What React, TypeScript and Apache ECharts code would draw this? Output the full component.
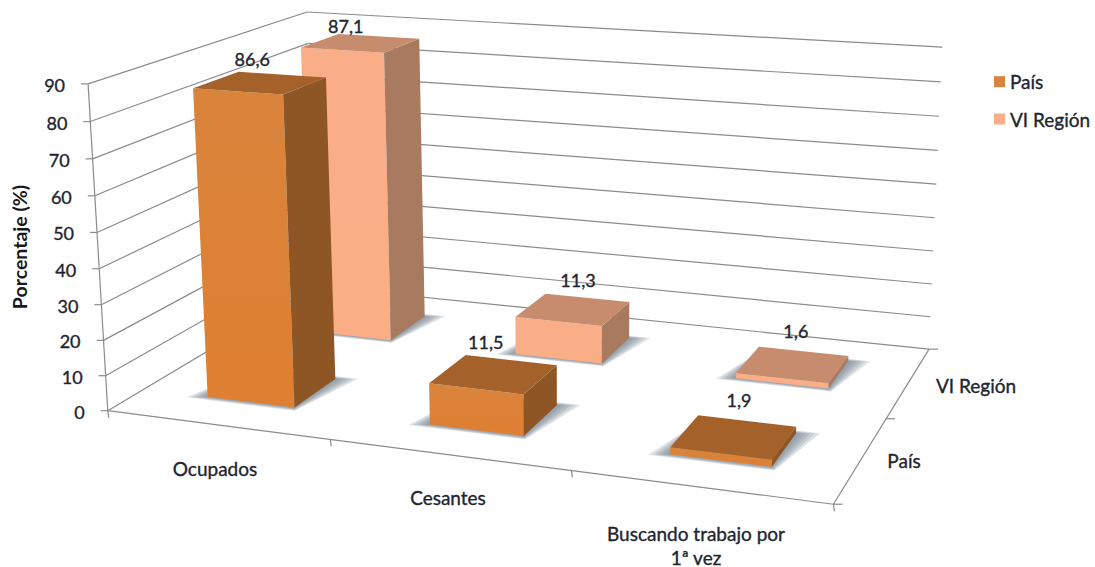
import React, { useEffect, useRef } from "react";
import * as echarts from "echarts";

const categories = ["Ocupados", "Cesantes", "Buscando trabajo por\n1ª vez"];
const seriesNames = ["País", "VI Región"];
const paisValues = [86.6, 11.5, 1.9];
const regionValues = [87.1, 11.3, 1.6];
const valueTicks = [0, 10, 20, 30, 40, 50, 60, 70, 80, 90];
const valueLabels = ["86,6", "11,5", "1,9"];
const regionLabels = ["87,1", "11,3", "1,6"];

const W = 1095;
const H = 567;
const FONT = "Lato, Carlito, 'Open Sans', sans-serif";
const TEXT = "#1e2530";
const LINE = "#8b8b8b";

// Calibration of the 3D box: [u, depth, height] -> screen position.
const calibration: number[][] = [
  [0, 0, 0, 107, 411],
  [0, 0, 1, 90, 83],
  [0, 1, 0, 318, 286],
  [0, 1, 1, 305, 12],
  [1, 1, 0, 928, 349],
  [1, 1, 1, 943, 48],
  [1, 0, 0, 833, 503],
  [1 / 3, 0, 0, 330, 440],
  [2 / 3, 0, 0, 570, 472],
  [1, 0.5, 0, 888, 418],
];

function solveProjection(): number[] {
  const rows: number[][] = [];
  const rhs: number[] = [];
  calibration.forEach(([X, Y, Z, sx, sy]) => {
    const x = sx / 1000;
    const y = sy / 1000;
    rows.push([X, Y, Z, 1, 0, 0, 0, 0, -x * X, -x * Y, -x * Z]);
    rhs.push(x);
    rows.push([0, 0, 0, 0, X, Y, Z, 1, -y * X, -y * Y, -y * Z]);
    rhs.push(y);
  });
  const n = 11;
  const m: number[][] = [];
  for (let i = 0; i < n; i++) {
    const r = new Array(n + 1).fill(0);
    rows.forEach((row, k) => {
      for (let j = 0; j < n; j++) r[j] += row[i] * row[j];
      r[n] += row[i] * rhs[k];
    });
    m.push(r);
  }
  for (let c = 0; c < n; c++) {
    let p = c;
    for (let i = c + 1; i < n; i++) if (Math.abs(m[i][c]) > Math.abs(m[p][c])) p = i;
    [m[c], m[p]] = [m[p], m[c]];
    for (let i = 0; i < n; i++) {
      if (i === c) continue;
      const f = m[i][c] / m[c][c];
      for (let j = c; j <= n; j++) m[i][j] -= f * m[c][j];
    }
  }
  return m.map((r, i) => r[n] / r[i]);
}
const P = solveProjection();
function project(u: number, d: number, h: number): number[] {
  const w = P[8] * u + P[9] * d + P[10] * h + 1;
  return [
    (1000 * (P[0] * u + P[1] * d + P[2] * h + P[3])) / w,
    (1000 * (P[4] * u + P[5] * d + P[6] * h + P[7])) / w,
  ];
}

const BAR_WIDTH = 0.4; // share of a category band
const BAR_DEPTH = 0.2; // share of the floor depth

const labelNudge = [
  [[-8, -24], [-8, -32], [5, -37]],
  [[-15, -17], [5, -29], [3, -33]],
];

const faces = [
  {
    front: ["#d9843c", "#df7f31"],
    side: "#8f5625",
    top: "#a4622a",
  },
  {
    front: ["#f9ae88", "#fbae86"],
    side: "#a87a60",
    top: "#c68c6d",
  },
];

function txt(text: string, x: number, y: number, align = "center", extra: any = {}) {
  return {
    type: "text",
    silent: true,
    style: {
      text,
      x,
      y,
      fill: TEXT,
      stroke: TEXT,
      lineWidth: 0.35,
      align,
      verticalAlign: "middle",
      fontSize: 18,
      fontFamily: FONT,
      ...extra,
    },
  };
}

function seg(a: number[], b: number[]) {
  return {
    type: "line",
    silent: true,
    shape: { x1: a[0], y1: a[1], x2: b[0], y2: b[1] },
    style: { stroke: LINE, lineWidth: 1.2, fill: "none" },
  };
}

const frameRender = (_p: any, api: any) => {
  const hOf = (v: number) => 1 - api.coord([0, v])[1] / H;
  const uOf = (i: number, off: number) => (api.coord([i, 0])[0] + off * api.size([1, 0])[0]) / W;
  const kids: any[] = [];
  valueTicks.forEach((v) => {
    const h = hOf(v);
    const a = project(0, 0, h);
    const b = project(0, 1, h);
    const c = project(1, 1, h);
    kids.push(seg(a, b), seg(b, c), seg([a[0] - 7, a[1]], a));
    kids.push(txt(String(v), a[0] - 23, a[1] + 1, "right"));
  });
  kids.push(seg(project(0, 0, 0), project(0, 0, 1)));
  kids.push(seg(project(0, 0, 0), project(1, 0, 0)));
  kids.push(seg(project(1, 0, 0), project(1, 1, 0)));
  const bands = [0, 1, 2].map((i) => uOf(i, -0.5)).concat(uOf(2, 0.5));
  bands.forEach((u) => {
    const a = project(u, 0, 0);
    kids.push(seg(a, [a[0] + 1, a[1] + 7]));
  });
  [0, 0.5, 1].forEach((d) => {
    const a = project(1, d, 0);
    kids.push(seg(a, [a[0] + 9, a[1]]));
  });
  const catPos = [
    [215, 468],
    [448, 497],
    [696, 533],
  ];
  categories.forEach((c, i) => {
    c.split("\n").forEach((line, k) => {
      kids.push(
        txt(line, catPos[i][0], catPos[i][1] + k * 24, "center", { lineHeight: 18, fontSize: 19 })
      );
    });
  });
  kids.push(txt("VI Región", 976, 385, "center", { fontSize: 19 }));
  kids.push(txt("País", 904, 460, "center", { fontSize: 19 }));
  kids.push({
    type: "text",
    silent: true,
    x: 19,
    y: 247,
    rotation: Math.PI / 2,
    style: {
      text: "Porcentaje (%)",
      fill: "#15181e",
      align: "center",
      verticalAlign: "middle",
      fontSize: 19.5,
      fontWeight: "bold",
      fontFamily: FONT,
    },
  });
  return { type: "group", children: kids };
};

function barRender(seriesIndex: number, labels: string[]) {
  const style = faces[seriesIndex];
  const dStart = seriesIndex === 0 ? 0.15 : 0.65;
  const d0 = dStart;
  const d1 = dStart + BAR_DEPTH;
  return (_p: any, api: any) => {
    const idx = api.value(0);
    const val = api.value(1);
    const pt = api.coord([idx, val]);
    const band = api.size([1, 0])[0];
    const u0 = (pt[0] - (band * BAR_WIDTH) / 2) / W;
    const u1 = (pt[0] + (band * BAR_WIDTH) / 2) / W;
    const h = 1 - pt[1] / H;
    const poly = (pts: number[][], fill: any, extra: any = {}) => ({
      type: "polygon",
      silent: true,
      shape: { points: pts },
      style: { fill, ...extra },
    });
    // Soft contact shadow: nested, faint footprints widening outwards.
    const shadows = [1, 0.8, 0.6, 0.4, 0.2].map((k) =>
      poly(
        [
          project(u0 - 0.026 * k, d0 - 0.018 * k, 0),
          project(u1 + 0.006 * k, d0 - 0.018 * k, 0),
          project(u1 + 0.03 * k, d1 + 0.018 * k, 0),
          project(u0 + 0.003 * k, d1 + 0.018 * k, 0),
        ],
        "rgba(105,118,135,0.2)"
      )
    );
    const front = poly(
      [project(u0, d0, h), project(u1, d0, h), project(u1, d0, 0), project(u0, d0, 0)],
      {
        type: "linear",
        x: 0,
        y: 0,
        x2: 0,
        y2: 1,
        colorStops: [
          { offset: 0, color: style.front[0] },
          { offset: 1, color: style.front[1] },
        ],
      }
    );
    const side = poly(
      [project(u1, d0, h), project(u1, d1, h), project(u1, d1, 0), project(u1, d0, 0)],
      style.side
    );
    const top = poly(
      [project(u0, d0, h), project(u1, d0, h), project(u1, d1, h), project(u0, d1, h)],
      style.top
    );
    const c = project((u0 + u1) / 2, (d0 + d1) / 2, h);
    const n = labelNudge[seriesIndex][idx];
    const label = txt(labels[idx], c[0] + n[0], c[1] + n[1], "center");
    return { type: "group", children: [...shadows, front, side, top, label] };
  };
}

export default function App() {
  const ref = useRef<HTMLDivElement>(null);
  useEffect(() => {
    document.body.style.margin = "0";
    const chart = echarts.init(ref.current!, undefined, { renderer: "svg" });
    chart.setOption({
      animation: false,
      backgroundColor: "#ffffff",
      grid: { left: 0, top: 0, width: W, height: H },
      xAxis: { type: "category", data: categories, show: false },
      yAxis: { type: "value", min: 0, max: 90, interval: 10, show: false },
      legend: {
        data: seriesNames,
        orient: "vertical",
        left: 989,
        top: 67,
        icon: "rect",
        itemWidth: 11,
        itemHeight: 11,
        itemGap: 18,
        selectedMode: false,
        textStyle: {
          color: TEXT,
          fontSize: 19,
          fontFamily: FONT,
          textBorderColor: TEXT,
          textBorderWidth: 0.35,
        },
      },
      series: [
        {
          type: "custom",
          name: "frame",
          z: 1,
          silent: true,
          data: [[0, 0]],
          renderItem: frameRender,
        },
        {
          type: "custom",
          name: seriesNames[1],
          z: 2,
          silent: true,
          itemStyle: { color: "#f9ae88" },
          data: regionValues.map((v, i) => [i, v]),
          renderItem: barRender(1, regionLabels),
        },
        {
          type: "custom",
          name: seriesNames[0],
          z: 3,
          silent: true,
          itemStyle: { color: "#d9843c" },
          data: paisValues.map((v, i) => [i, v]),
          renderItem: barRender(0, valueLabels),
        },
      ],
    });
    return () => chart.dispose();
  }, []);
  return <div ref={ref} style={{ width: W, height: H }} />;
}
